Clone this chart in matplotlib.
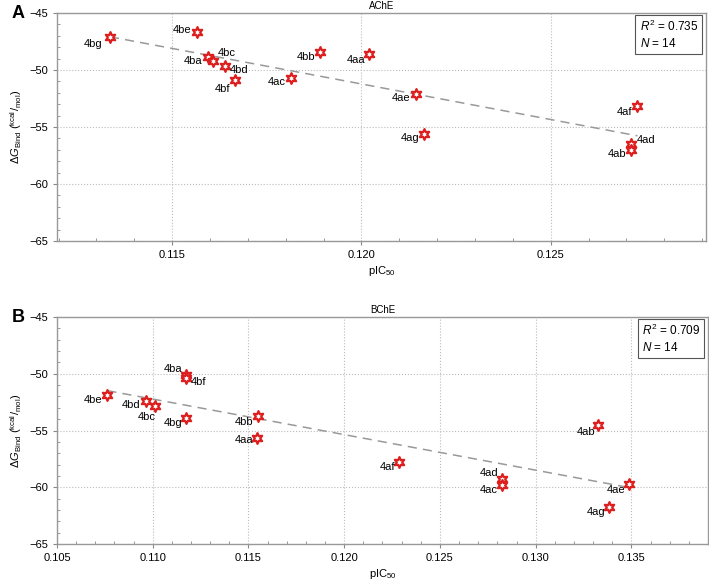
import matplotlib
matplotlib.use('Agg')
import matplotlib.pyplot as plt
import numpy as np
from matplotlib.ticker import MultipleLocator

plt.rcParams['font.family'] = ['Liberation Sans', 'DejaVu Sans']
plt.rcParams['mathtext.fontset'] = 'custom'
plt.rcParams['mathtext.rm'] = 'Liberation Sans'
plt.rcParams['mathtext.it'] = 'Liberation Sans:italic'

# AChE panel
ache_labels = ['4bg', '4be', '4ba', '4bc', '4bd', '4bf', '4ac', '4bb',
               '4aa', '4ae', '4ag', '4af', '4ad', '4ab']
ache_x = [0.11336, 0.11565, 0.11596, 0.11609, 0.1164, 0.11667, 0.11815, 0.1189,
          0.12019, 0.12143, 0.12165, 0.12729, 0.12712, 0.12712]
ache_y = [-47.1, -46.7, -48.9, -49.2, -49.65, -50.9, -50.7, -48.45,
          -48.6, -52.1, -55.65, -53.2, -56.5, -57.0]
ache_r2 = '0.735'

# BChE panel
bche_labels = ['4be', '4bd', '4bc', '4ba', '4bf', '4bg', '4bb',
               '4aa', '4af', '4ad', '4ac', '4ae', '4ag', '4ab']
bche_x = [0.10763, 0.10963, 0.11012, 0.11172, 0.11172, 0.11174, 0.11552,
          0.11545, 0.12288, 0.12825, 0.12825, 0.1349, 0.13384, 0.13324]
bche_y = [-51.86, -52.4, -52.8, -50.1, -50.4, -53.86, -53.7,
          -55.65, -57.8, -59.26, -59.76, -59.7, -61.7, -54.5]
bche_r2 = '0.709'

# label offsets in pixels (dx, dy, ha)
ache_offsets = {
    '4bg': (-8, -7, 'right'), '4be': (-5, 2, 'right'), '4ba': (-6, -4, 'right'),
    '4bc': (4, 8, 'left'), '4bd': (5, -4, 'left'), '4bf': (-5, -9, 'right'),
    '4ac': (-6, -4, 'right'), '4bb': (-4, -5, 'right'), '4aa': (-3, -6, 'right'),
    '4ae': (-5, -4, 'right'), '4ag': (-5, -4, 'right'), '4af': (-5, -6, 'right'),
    '4ad': (6, 4, 'left'), '4ab': (-5, -4, 'right'),
}
bche_offsets = {
    '4be': (-5, -5, 'right'), '4bd': (-5, -4, 'right'), '4bc': (1, -11, 'right'),
    '4ba': (-3, 6, 'right'), '4bf': (5, -4, 'left'), '4bg': (-4, -5, 'right'),
    '4bb': (-5, -6, 'right'), '4aa': (-4, -2, 'right'), '4af': (-4, -5, 'right'),
    '4ad': (-4, 6, 'right'), '4ac': (-4, -5, 'right'), '4ae': (-4, -6, 'right'),
    '4ag': (-4, -5, 'right'), '4ab': (-2, -7, 'right'),
}

W, H = 709, 582
fig = plt.figure(figsize=(W / 100, H / 100), dpi=100)


def panel(rect, letter, title, xs, ys, labels, offsets, r2, xlim, xmajor):
    l, t, r, b = rect
    ax = fig.add_axes([l / W, 1 - b / H, (r - l) / W, (b - t) / H])
    xs = np.array(xs)
    ys = np.array(ys)

    ax.grid(True, which='major', color='#bbbbbb', linestyle=':', linewidth=0.8)
    ax.set_axisbelow(True)

    slope, icpt = np.polyfit(xs, ys, 1)
    xl = np.array([xs.min(), xs.max()])
    ax.plot(xl, slope * xl + icpt, color='#999999', linestyle=(0, (6, 4)), linewidth=1.1)

    ax.scatter(xs, ys, marker=(6, 1, 0), s=60, facecolor='white',
               edgecolor='#dd1f1f', linewidth=1.6, zorder=3)
    for lab, x, y in zip(labels, xs, ys):
        dx, dy, ha = offsets[lab]
        ax.annotate(lab, (x, y), xytext=(dx, dy), textcoords='offset pixels',
                    ha=ha, va='center', fontsize=8, zorder=4)

    ax.set_xlim(*xlim)
    ax.set_ylim(-65, -45)
    ax.xaxis.set_major_locator(MultipleLocator(xmajor))
    ax.xaxis.set_minor_locator(MultipleLocator(0.001))
    ax.yaxis.set_major_locator(MultipleLocator(5))
    ax.yaxis.set_minor_locator(MultipleLocator(1))
    ax.xaxis.set_major_formatter(plt.FuncFormatter(lambda v, p: f'{v:.3f}'))
    ax.yaxis.set_major_formatter(plt.FuncFormatter(lambda v, p: f'\u2212{abs(v):.0f}'))
    ax.tick_params(which='major', direction='out', length=3, labelsize=8,
                   color='#888888', top=False, right=False)
    ax.tick_params(which='minor', direction='in', length=2.5, color='#888888',
                   top=False, right=False)
    for s in ax.spines.values():
        s.set_color('#999999')
        s.set_linewidth(1.0)

    ax.set_xlabel(r'pIC$_{50}$', fontsize=8, labelpad=3)
    ax.set_ylabel(r'$\Delta G_{\mathrm{Bind}}$ ($^{\mathrm{kcal}}/_{\mathrm{mol}}$)',
                  fontsize=8, labelpad=4)
    ax.set_title(title, fontsize=7, pad=3)
    ax.text(0.988, 0.975, f'$R^2$ = {r2}\n$N$ = {len(xs)}', transform=ax.transAxes,
            ha='right', va='top', multialignment='left', fontsize=8.5,
            linespacing=1.3,
            bbox=dict(boxstyle='square,pad=0.35', facecolor='white',
                      edgecolor='#555555', linewidth=0.8))
    fig.text(12 / W, 1 - t / H, letter, fontsize=13, fontweight='bold',
             ha='left', va='center')
    return ax


panel((57, 13, 706, 241), 'A', 'AChE', ache_x, ache_y, ache_labels,
      ache_offsets, ache_r2, (0.11196, 0.1291), 0.005)
panel((57, 317, 708, 544), 'B', 'BChE', bche_x, bche_y, bche_labels,
      bche_offsets, bche_r2, (0.105, 0.139), 0.005)

fig.savefig('out.png', dpi=100)
